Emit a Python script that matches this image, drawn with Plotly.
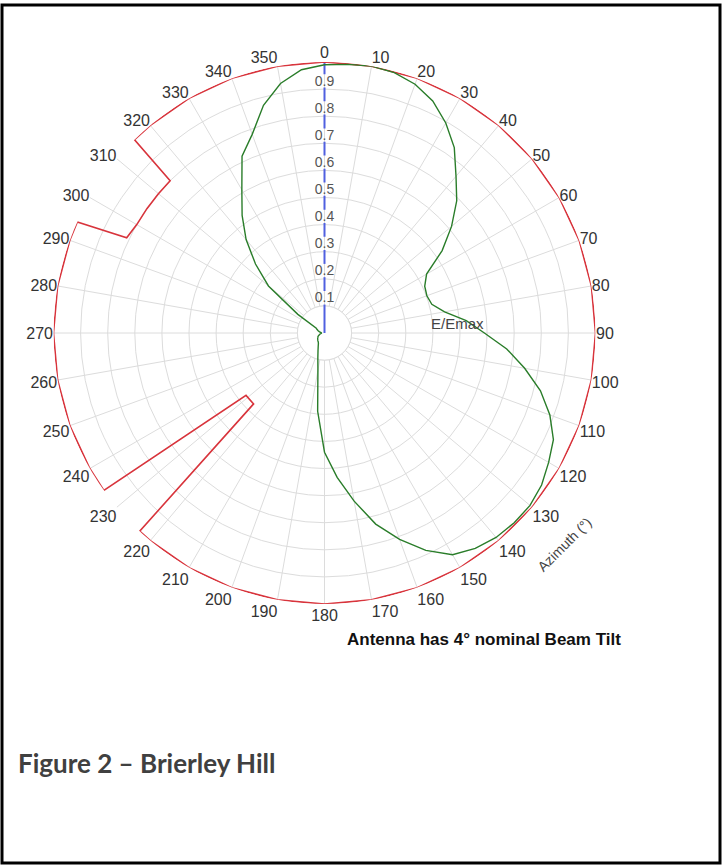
import plotly.graph_objects as go

# ---- data ----
azimuth_ticks = list(range(0, 360, 10))
azimuth_labels = [str(a) for a in azimuth_ticks]
radial_ticks = [0.1, 0.2, 0.3, 0.4, 0.5, 0.6, 0.7, 0.8, 0.9]
radial_labels = ["0.1", "0.2", "0.3", "0.4", "0.5", "0.6", "0.7", "0.8", "0.9"]

pattern_theta = [0, 5, 10, 15, 20, 25, 30, 35, 40, 45, 50, 55, 60, 65, 70, 75, 80, 85,
                 90, 95, 100, 105, 110, 115, 120, 125, 130, 135, 140, 145, 150, 155, 160, 165,
                 170, 175, 180, 185, 190, 195, 200, 205, 210, 215, 220, 225, 230, 235, 240, 245,
                 250, 255, 260, 265, 270, 275, 280, 285, 290, 295, 300, 305, 310, 315, 320, 325,
                 330, 335, 340, 345, 350, 355, 360]
pattern_r = [0.99, 0.995, 1.0, 0.995, 0.977, 0.945, 0.895, 0.835, 0.755, 0.69, 0.612, 0.53,
             0.435, 0.408, 0.402, 0.41, 0.45, 0.525, 0.59, 0.675, 0.75, 0.825, 0.885, 0.932,
             0.955, 0.978, 0.99, 0.99, 0.985, 0.97, 0.945, 0.885, 0.81, 0.73, 0.63, 0.535,
             0.44, 0.29, 0.14, 0.095, 0.07, 0.055, 0.045, 0.04, 0.038, 0.035, 0.033, 0.03,
             0.028, 0.025, 0.02, 0.018, 0.015, 0.012, 0.01, 0.012, 0.015, 0.02, 0.025, 0.03,
             0.035, 0.12, 0.27, 0.36, 0.45, 0.53, 0.61, 0.72, 0.78, 0.87, 0.935, 0.975, 0.99]

restrict_theta = [0, 10, 20, 30, 40, 50, 60, 70, 80, 90, 100, 110, 120, 130, 140, 150, 160,
                  170, 180, 190, 200, 210, 220, 223, 225, 231.5, 234.5, 240, 250, 260, 270,
                  280, 290, 294.2, 295.7, 300, 305, 310, 314.6, 315.5, 320, 330, 340, 350, 360]
restrict_r = [1, 1, 1, 1, 1, 1, 1, 1, 1, 1, 1, 1, 1, 1, 1, 1, 1, 1, 1, 1, 1, 1, 1, 1,
              0.37, 0.37, 1, 1, 1, 1, 1, 1, 1, 1, 0.81, 0.8, 0.8, 0.8, 0.8, 1, 1, 1, 1, 1, 1]

hole_theta = list(range(0, 361, 10))
hole_r = [0.1] * len(hole_theta)

# radial axis segments (between tick labels)
axis_r, axis_theta = [0, 0.105, None], [0, 0, None]
for t in radial_ticks[1:] + [1.0]:
    axis_r += [t - 0.045, min(t + 0.006, 1.0), None]
    axis_theta += [0, 0, None]

FONT = "Arial, Liberation Sans, sans-serif"

fig = go.Figure()
fig.add_trace(go.Scatterpolar(r=hole_r, theta=hole_theta, mode="lines", fill="toself",
                              fillcolor="white", line=dict(color="#dcdcdc", width=1),
                              hoverinfo="skip"))
fig.add_trace(go.Scatterpolar(r=axis_r, theta=axis_theta, mode="lines",
                              line=dict(color="#5060e0", width=2), hoverinfo="skip"))
fig.add_trace(go.Scatterpolar(r=restrict_r, theta=restrict_theta, mode="lines",
                              line=dict(color="#d8343c", width=1.6)))
fig.add_trace(go.Scatterpolar(r=pattern_r, theta=pattern_theta, mode="lines",
                              line=dict(color="#2a7d2a", width=1.4)))
fig.add_trace(go.Scatterpolar(r=radial_ticks, theta=[0] * len(radial_ticks), mode="text",
                              text=radial_labels, textposition="top center",
                              textfont=dict(family=FONT, size=14, color="#555555")))
fig.add_trace(go.Scatterpolar(r=[0.49], theta=[90], mode="text", text=["E/Emax"],
                              textposition="top center",
                              textfont=dict(family=FONT, size=15, color="#444444")))

W, H = 722, 866
cx, cy, R = 324.5, 333, 271
fig.update_layout(
    width=W, height=H, margin=dict(l=0, r=0, t=0, b=0),
    paper_bgcolor="white", showlegend=False,
    polar=dict(
        domain=dict(x=[(cx - R) / W, (cx + R) / W], y=[1 - (cy + R) / H, 1 - (cy - R) / H]),
        bgcolor="white",
        angularaxis=dict(rotation=90, direction="clockwise", tickmode="array",
                         tickvals=azimuth_ticks, ticktext=azimuth_labels,
                         showline=False, ticks="", gridcolor="#dcdcdc", gridwidth=1,
                         tickfont=dict(family=FONT, size=16, color="#333333")),
        radialaxis=dict(range=[0, 1], tickvals=radial_ticks + [1.0], showticklabels=False,
                        showline=False, ticks="", gridcolor="#dcdcdc", gridwidth=1),
    ),
    shapes=[dict(type="rect", xref="paper", yref="paper", x0=2 / W, x1=1 - 2 / W,
                 y0=3 / H, y1=1 - 5 / H, line=dict(color="black", width=3))],
    annotations=[
        dict(text="Azimuth (°)", xref="paper", yref="paper", x=564 / W, y=1 - 545 / H,
             xanchor="center", yanchor="middle",
             showarrow=False, textangle=-45, font=dict(family=FONT, size=14, color="#444444")),
        dict(text="<b>Antenna has 4° nominal Beam Tilt</b>", xref="paper", yref="paper",
             x=345 / W, y=1 - 639 / H, xanchor="left", yanchor="middle", showarrow=False,
             font=dict(family=FONT, size=17, color="#111111")),
        dict(text="<b>Figure 2 – Brierley Hill</b>", xref="paper", yref="paper",
             x=16 / W, y=1 - 763 / H, xanchor="left", yanchor="middle", showarrow=False,
             font=dict(family="Lato, Open Sans, sans-serif", size=26, color="#404040")),
    ],
)

fig.write_html("out.html", config={"displayModeBar": False},
               post_script="document.body.style.margin='0';document.body.style.padding='0';")
